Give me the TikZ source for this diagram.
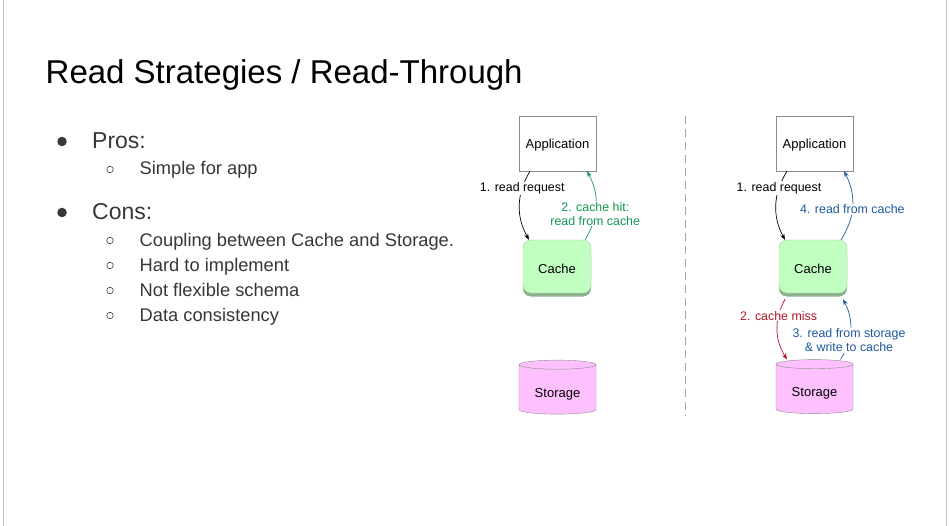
\documentclass[tikz,border=0pt]{standalone}
\usepackage{fontspec}
\setmainfont{Liberation Sans}
\usetikzlibrary{arrows.meta,shapes.geometric,shadows}
\definecolor{slidegrey}{RGB}{195,195,195}
\definecolor{bodytext}{RGB}{55,55,55}
\definecolor{boxgrey}{RGB}{140,140,140}
\definecolor{cachegreen}{RGB}{192,255,192}
\definecolor{cacheedge}{RGB}{140,175,140}
\definecolor{storepink}{RGB}{255,192,255}
\definecolor{hitgreen}{RGB}{20,150,80}
\definecolor{readblue}{RGB}{30,90,160}
\definecolor{missred}{RGB}{180,20,40}
\begin{document}
\begin{tikzpicture}[x=1pt,y=1pt,>={Stealth[length=6pt,width=4.5pt]},
    appbox/.style={draw=boxgrey,fill=white,minimum width=77pt,minimum height=55pt,inner sep=0pt,text depth=0pt,font=\fontsize{13}{15}\selectfont},
    cachebox/.style={draw=cacheedge!60!cachegreen,fill=cachegreen,rounded corners=8pt,minimum width=68pt,minimum height=53pt,inner sep=0pt,text height=13pt,text depth=0pt,
        drop shadow={shadow xshift=0pt,shadow yshift=-3.5pt,fill=cacheedge,opacity=1},font=\fontsize{13}{15}\selectfont},
    storebox/.style={cylinder,shape border rotate=90,aspect=0.2,draw=boxgrey,fill=storepink,minimum width=77pt,minimum height=54pt,inner sep=0pt,text height=15pt,text depth=0pt,font=\fontsize{13}{15}\selectfont},
    lbl/.style={fill=white,inner sep=1pt,align=center,font=\fontsize{12.4}{14}\selectfont},
    big/.style={anchor=base west,inner sep=0pt,text=bodytext,font=\fontsize{23}{27}\selectfont},
    small/.style={anchor=base west,inner sep=0pt,text=bodytext,font=\fontsize{18.3}{22}\selectfont},
    dot/.style={circle,fill=bodytext,inner sep=0pt,minimum size=9.5pt},
    ring/.style={circle,draw=bodytext,line width=0.6pt,inner sep=0pt,minimum size=6.5pt}]
                \useasboundingbox(0,0)rectangle(949,-526);
                \draw[slidegrey,line width=1pt](3,0)--(3,-526);
                \draw[slidegrey,line width=1pt](946,0)--(946,-526);
                \node(t)[anchor=base west,inner sep=0pt,font=\fontsize{33}{38}\selectfont]at(45.5,-83.3){Read Strategies / Read-Through};
                \node(b1)[dot]at(62,-141.5){};
                \node(p)[big]at(92,-148.3){Pros:};
                \node(s1)[ring]at(110,-169.5){};
                \node(p1)[small]at(139.5,-175){Simple for app};
                \node(b2)[dot]at(62,-212.5){};
                \node(c)[big]at(92,-219.3){Cons:};
                \node(s2)[ring]at(110,-240.5){};
                \node(c1)[small]at(139.5,-246.7){Coupling between Cache and Storage.};
                \node(s3)[ring]at(110,-265.5){};
                \node(c2)[small]at(139.5,-271.7){Hard to implement};
                \node(s4)[ring]at(110,-290.5){};
                \node(c3)[small]at(139.5,-296.7){Not flexible schema};
                \node(s5)[ring]at(110,-315.5){};
                \node(c4)[small]at(139.5,-321.7){Data consistency};
                \node(1)[appbox]at(557.5,-143.5){Application};
                \node(2)[cachebox]at(557,-266.5){Cache};
                \node(3)[storebox]at(557.5,-389.5){Storage};
                \node(4)[appbox]at(814.5,-143.5){Application};
                \node(5)[cachebox]at(813,-266.5){Cache};
                \node(6)[storebox]at(814.5,-389){Storage};
                \coordinate(top)at(685,-116);
                \coordinate(bottom)at(685,-416);
                \draw[slidegrey!85!black,line width=1pt,dash pattern=on 8pt off 5pt](top)--(bottom);
                \draw[->,line width=0.7pt]([xshift=-27.5pt]1.south)to[bend right=30]node[lbl,pos=0.25]{1. read request}([xshift=-28pt]2.north);
                \draw[->,hitgreen,line width=0.7pt]([xshift=28pt]2.north)to[bend right=30]node[lbl,pos=0.38]{2. cache hit:\\read from cache}([xshift=29.5pt]1.south);
                \draw[->,line width=0.7pt]([xshift=-27.5pt]4.south)to[bend right=30]node[lbl,pos=0.25]{1. read request}([xshift=-28pt]5.north);
                \draw[->,readblue,line width=0.7pt]([xshift=28pt]5.north)to[bend right=30]node[lbl,pos=0.45]{4. read from cache}([xshift=29.5pt]4.south);
                \draw[->,missred,line width=0.7pt]([xshift=-28pt,yshift=-6pt]5.south)to[bend right=30]node[lbl,pos=0.27]{2. cache miss}([xshift=-27.5pt]6.north);
                \draw[->,readblue,line width=0.7pt]([xshift=26pt]6.north)to[bend right=30]node[lbl,pos=0.32]{3. read from storage\\\& write to cache}([xshift=30pt,yshift=-6pt]5.south);
            \end{tikzpicture}
\end{document}
